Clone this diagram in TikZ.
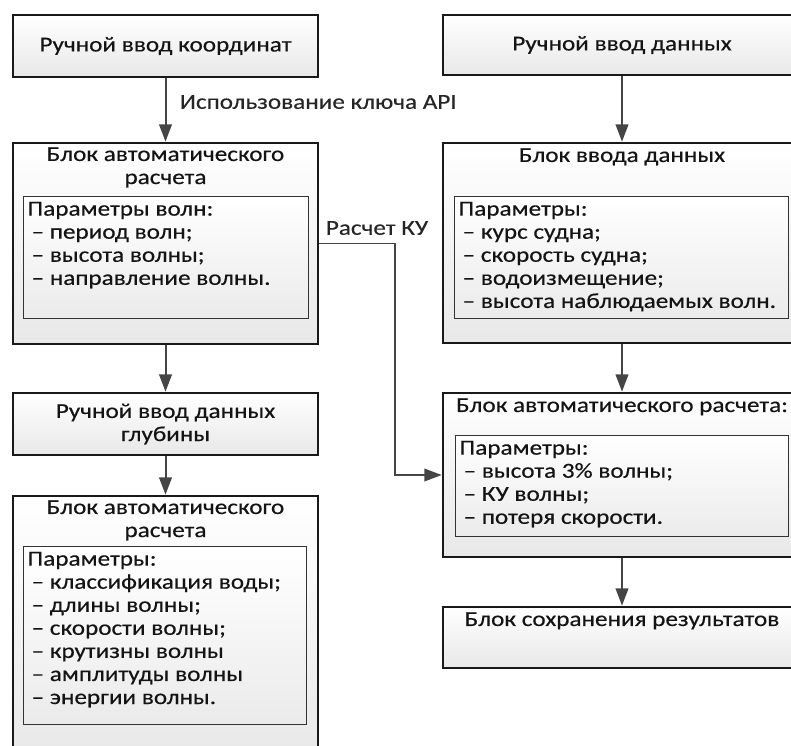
\documentclass[tikz,border=0pt]{standalone}
\usepackage{fontspec}
\setmainfont[FakeStretch=1.18, FakeBold=0.4]{Carlito}
\usetikzlibrary{arrows.meta}
\usetikzlibrary{positioning}
\definecolor{linegray}{HTML}{454545}
\tikzset{every node/.style = {font=\fontsize{16pt}{17.3pt}\selectfont, text=black!92}}
\tikzset{blk/.style = {draw=black!90, line width=2pt, top color=white, bottom color=black!9, inner sep=0, align=center}}
\tikzset{plist/.style = {draw=black!80, line width=0.9pt, top color=white, bottom color=black!8,
                         inner xsep=3pt, inner ysep=4pt, anchor=north west}}
\tikzset{ttl/.style = {align=center, anchor=north, inner sep=0}}
\tikzset{flow/.style = {draw=linegray, line width=1.5pt, -{Triangle[length=13pt, width=9.5pt]}}}
\tikzset{lbl/.style = {inner sep=0, text=black!85}}
\newcommand{\paramlist}[3]{\parbox[c][#2][t]{#1}{\raggedright #3}}
\newcommand{\itm}{\hspace*{3pt}– }

\begin{document}
\begin{tikzpicture}[x=0.75pt, y=-0.75pt]
      \useasboundingbox (0,0) rectangle (791,745);
      \clip (0,0) rectangle (791,745);
      % left column
      \node (A) [blk, minimum width=228.75pt, minimum height=46.5pt] at (165.5,46) {Ручной ввод координат};
      \node (B) [blk, minimum width=228.75pt, minimum height=150.75pt] at (165.5,243.5) {};
      \node (Bttl) [ttl] at (165.5,147) {Блок автоматического\\расчета};
      \node (Bpar) [plist] at (23,196) {\paramlist{207.75pt}{83.5pt}{Параметры волн:\\
        \itm период волн;\\ \itm высота волны;\\ \itm направление волны.}};
      \node (C) [blk, minimum width=228.75pt, minimum height=46.5pt] at (165.5,424) {Ручной ввод данных\\глубины};
      \node (D) [blk, minimum width=228.75pt, minimum height=198pt] at (165.5,628) {};
      \node (Dttl) [ttl] at (165.5,500) {Блок автоматического\\расчета};
      \node (Dpar) [plist] at (23,546) {\paramlist{206.25pt}{125.5pt}{Параметры:\\
        \itm классификация воды;\\ \itm длины волны;\\ \itm скорости волны;\\
        \itm крутизны волны\\ \itm амплитуды волны\\ \itm энергии волны.}};
      % right column
      \node (E) [blk, minimum width=268.5pt, minimum height=45pt] at (622,45) {Ручной ввод данных};
      \node (F) [blk, minimum width=268.5pt, minimum height=150pt] at (622,243) {};
      \node (Fttl) [ttl] at (622,148) {Блок ввода данных};
      \node (Fpar) [plist] at (454,196) {\paramlist{244.5pt}{83.5pt}{Параметры:\\
        \itm курс судна;\\ \itm скорость судна;\\ \itm водоизмещение;\\ \itm высота наблюдаемых волн.}};
      \node (G) [blk, minimum width=268.5pt, minimum height=123pt] at (622,475) {};
      \node (Gttl) [ttl] at (622,398) {Блок автоматического расчета:};
      \node (Gpar) [plist] at (455,435) {\paramlist{243.75pt}{67.75pt}{Параметры:\\
        \itm высота 3\% волны;\\ \itm КУ волны;\\ \itm потеря скорости.}};
      \node (H) [blk, minimum width=268.5pt, minimum height=45.75pt] at (622,637.5) {};
      \node (Httl) [ttl] at (622,612) {Блок сохранения результатов};
      % connectors
      \draw [flow] (A) -- node [lbl, right=10pt, yshift=6pt] {Использование ключа API} (B);
      \draw [flow] (B) -- (C);
      \draw [flow] (C) -- (D);
      \draw [flow] (E) -- (F);
      \draw [flow] (F) -- (G);
      \draw [flow] (G) -- (H);
      \coordinate (ku) at (395,243.5);
      \draw [flow, line width=1.2pt] (B.east) -- (ku) |- (G.west);
      \node (kulbl) [lbl] at (377,228) {Расчет КУ};
    \end{tikzpicture}
\end{document}
